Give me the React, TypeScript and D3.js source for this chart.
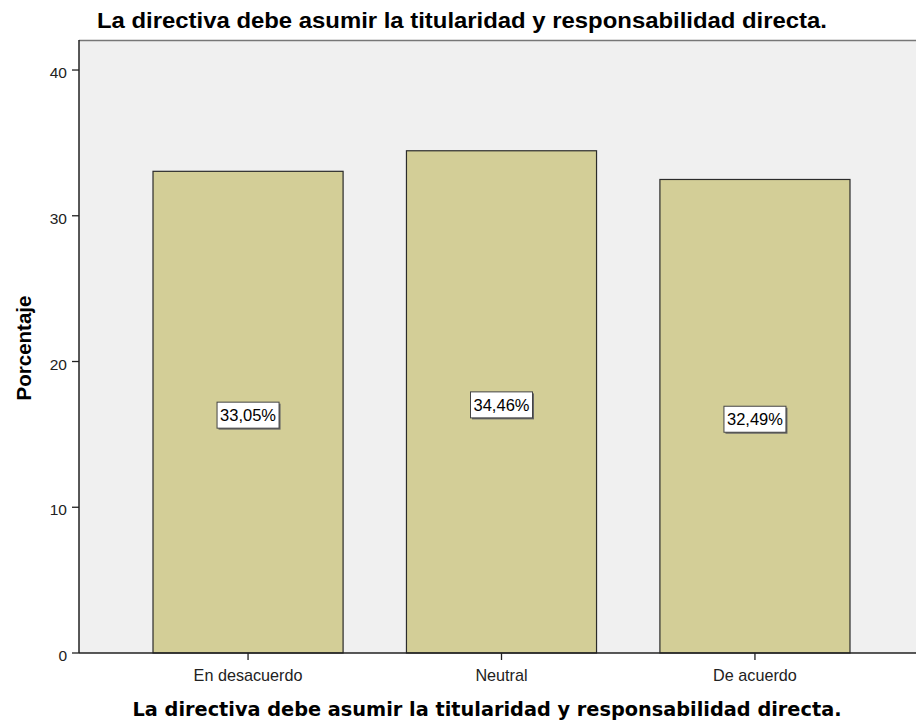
import React from "react";
import * as d3 from "d3";

const categories = ["En desacuerdo", "Neutral", "De acuerdo"];
const values = [33.05, 34.46, 32.49];
const valueLabels = ["33,05%", "34,46%", "32,49%"];
const yTicks = [0, 10, 20, 30, 40];
const title = "La directiva debe asumir la titularidad y responsabilidad directa.";
const yTitle = "Porcentaje";

export default function App() {
  const W = 916, H = 721;
  const left = 79, top = 40, bottom = 653, right = 924;
  const y = d3.scaleLinear().domain([0, 42.06]).range([bottom, top]);
  const x = d3.scaleBand<string>().domain(categories).range([left, right]).paddingInner(0.25).paddingOuter(0.292);
  const bw = x.bandwidth();
  const sans = "Liberation Sans, Arial, sans-serif";
  return (
    <svg width={W} height={H} style={{ position: "absolute", left: 0, top: 0, display: "block" }}>
      <rect x={0} y={0} width={W} height={H} fill="#ffffff" />
      <text x={462} y={28} textAnchor="middle" fontFamily={sans} fontWeight="bold" fontSize={22.5} textLength={730} lengthAdjust="spacingAndGlyphs" fill="#000">{title}</text>
      <rect x={left} y={top} width={right - left} height={bottom - top} fill="#f0f0f0" />
      <line x1={left} x2={right} y1={top + 0.5} y2={top + 0.5} stroke="#777" strokeWidth={1.5} />
      {categories.map((c, i) => (
        <rect key={c} x={x(c)!} y={y(values[i])} width={bw} height={bottom - y(values[i])} fill="#d3ce97" stroke="#2b2b2b" strokeWidth={1.2} />
      ))}
      <line x1={left} x2={left} y1={top} y2={bottom} stroke="#222" strokeWidth={1.5} />
      <line x1={left} x2={right} y1={bottom} y2={bottom} stroke="#222" strokeWidth={1.5} />
      {yTicks.map((t) => (
        <g key={t}>
          <line x1={left - 7} x2={left} y1={y(t)} y2={y(t)} stroke="#222" strokeWidth={1.3} />
          <text x={67} y={y(t) + 8} textAnchor="end" fontFamily={sans} fontSize={15.5} fill="#222">{t}</text>
        </g>
      ))}
      {categories.map((c) => {
        const cx = x(c)! + bw / 2;
        return (
          <g key={c}>
            <line x1={cx} x2={cx} y1={bottom} y2={bottom + 7} stroke="#222" strokeWidth={1.3} />
            <text x={cx} y={681} textAnchor="middle" fontFamily={sans} fontSize={16.2} fill="#222">{c}</text>
          </g>
        );
      })}
      {categories.map((c, i) => {
        const cx = x(c)! + bw / 2;
        const cy = y(values[i] / 2) + 3;
        const bwid = 62, bh = 26;
        return (
          <g key={"l" + c}>
            <rect x={cx - bwid / 2 + 1.5} y={cy - bh / 2 + 1.5} width={bwid} height={bh} fill="#666" />
            <rect x={cx - bwid / 2} y={cy - bh / 2} width={bwid} height={bh} fill="#ffffff" stroke="#444" strokeWidth={1} />
            <text x={cx} y={cy + 6} textAnchor="middle" fontFamily={sans} fontSize={16.5} fill="#000">{valueLabels[i]}</text>
          </g>
        );
      })}
      <text transform={`translate(31, 348) rotate(-90)`} textAnchor="middle" fontFamily={sans} fontWeight="bold" fontSize={20.5} fill="#000">{yTitle}</text>
      <text x={487} y={716} textAnchor="middle" fontFamily="DejaVu Sans, sans-serif" fontWeight="bold" fontSize={19.5} textLength={709} lengthAdjust="spacingAndGlyphs" fill="#000">{title}</text>
    </svg>
  );
}
